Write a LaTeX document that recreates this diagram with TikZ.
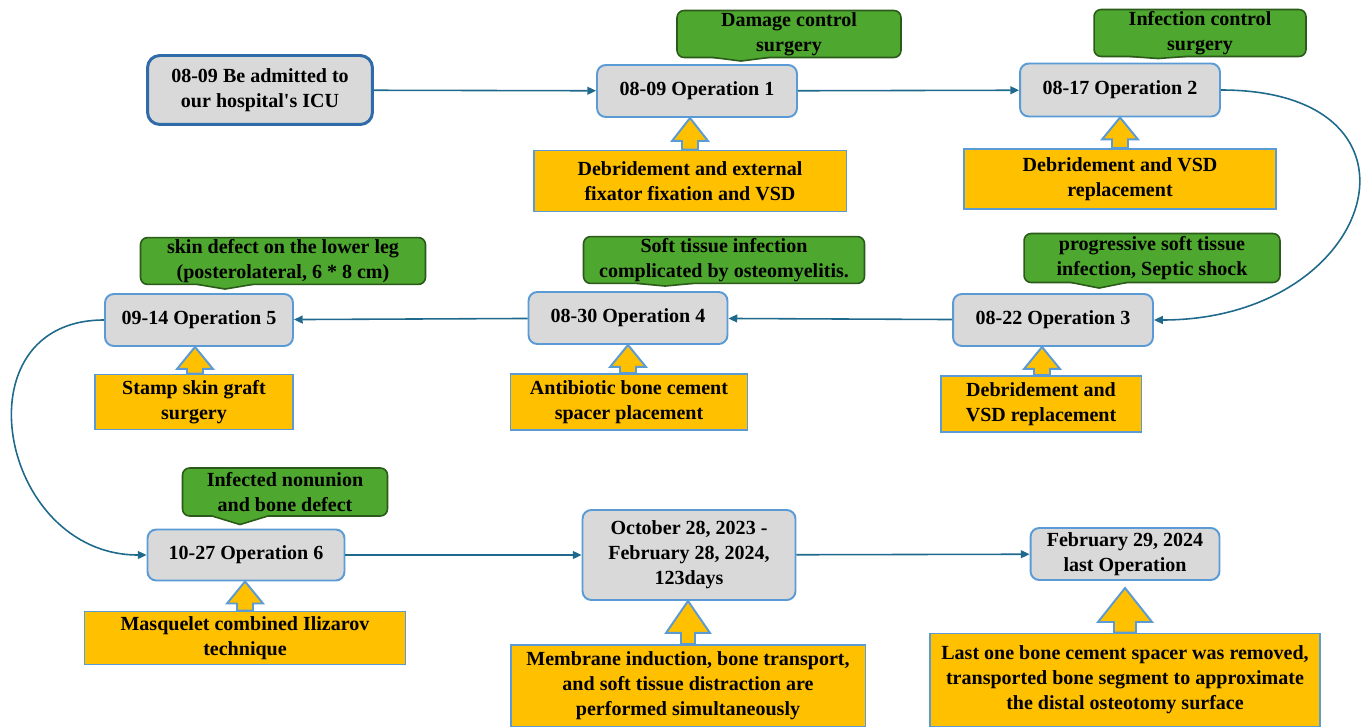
\documentclass[tikz,border=0pt]{standalone}
\usepackage{fontspec}
\setmainfont{Liberation Serif}
\usetikzlibrary{arrows.meta,calc}

\definecolor{opgray}{HTML}{D9D9D9}
\definecolor{edgeblue}{HTML}{5B9BD5}
\definecolor{icublue}{HTML}{2E6BA8}
\definecolor{flowteal}{HTML}{1F6A8C}
\definecolor{causegreen}{HTML}{4EA72E}
\definecolor{causedark}{HTML}{2B5A1A}
\definecolor{procorange}{HTML}{FFC000}

\newcommand{\pxu}{0.02cm}
% block arrow from a procedure box up to an operation
\newcommand{\liftarrow}[7]{%
  \draw[liftarr] let \p1=(#3,0 |- #1.north), \p2=(#3,0 |- #2.south) in
    ({\x2},{\y2-#7*\pxu}) -- ({\x2+#5*\pxu},{\y2-(#7+#6)*\pxu}) -- ({\x2+#4*\pxu},{\y2-(#7+#6)*\pxu})
    -- ({\x1+#4*\pxu},\y1) -- ({\x1-#4*\pxu},\y1) -- ({\x2-#4*\pxu},{\y2-(#7+#6)*\pxu})
    -- ({\x2-#5*\pxu},{\y2-(#7+#6)*\pxu}) -- cycle;}
% small pointer under a green cause box
\newcommand{\causetip}[2]{%
  \coordinate (tip) at #2;
  \fill[causegreen] ($(tip |- #1.south)+(-28,-2.5)$) -- ($(tip |- #1.south)+(-28,-0.8)$) -- (tip)
    -- ($(tip |- #1.south)+(28,-0.8)$) -- ($(tip |- #1.south)+(28,-2.5)$) -- cycle;
  \draw[causedark, line width=0.9pt] ($(tip |- #1.south)+(-28,-0.8)$) -- (tip) -- ($(tip |- #1.south)+(28,-0.8)$);}

\begin{document}
\begin{tikzpicture}[x=0.02cm, y=-0.02cm,
  font=\fontsize{11.4}{14.2}\selectfont\bfseries,
  op/.style={draw=edgeblue, line width=1.1pt, fill=opgray, rounded corners=5pt, align=center, minimum height=1.04cm, inner sep=2pt},
  cause/.style={draw=causedark, line width=0.9pt, fill=causegreen, rounded corners=4pt, align=center, inner sep=1pt},
  proc/.style={draw=edgeblue, line width=1.1pt, fill=procorange, align=center, inner sep=2pt},
  flow/.style={draw=flowteal, line width=0.9pt, -{Triangle[length=5pt,width=4.5pt]}},
  liftarr/.style={draw=edgeblue, line width=1.1pt, fill=procorange, line join=miter}]

\useasboundingbox (0,0) rectangle (1364,726);

\node (icu) [op, draw=icublue, line width=1.7pt, rounded corners=7pt, minimum width=4.5cm, minimum height=1.38cm] at (260,90) {08-09 Be admitted to\\ our hospital\textquotesingle s ICU};
\node (op1) [op, minimum width=4cm] at (697,91) {08-09 Operation 1};
\node (op2) [op, minimum width=4cm, minimum height=1.06cm] at (1120,90) {08-17 Operation 2};
\node (op3) [op, minimum width=4cm] at (1053,320) {08-22 Operation 3};
\node (op4) [op, minimum width=3.98cm] at (628,318) {08-30 Operation 4};
\node (op5) [op, minimum width=3.76cm] at (199,320) {09-14 Operation 5};
\node (op6) [op, minimum width=3.94cm, minimum height=1.02cm] at (246,555) {10-27 Operation 6};
\node (op7) [op, minimum width=4.26cm, minimum height=1.8cm] at (689,555) {October 28, 2023 -\\ February 28, 2024,\\ 123days};
\node (op8) [op, minimum width=3.78cm] at (1125,554) {February 29, 2024\\ last Operation};

\node (c1) [cause, minimum width=4.48cm, minimum height=0.94cm] at (789,34) {Damage control\\ surgery};
\node (c2) [cause, minimum width=4.24cm, minimum height=0.92cm] at (1200,33) {Infection control\\ surgery};
\node (c3) [cause, minimum width=5.12cm, minimum height=0.98cm] at (1152,258) {progressive soft tissue\\ infection, Septic shock};
\node (c4) [cause, minimum width=5.62cm, minimum height=0.9cm] at (724,260) {Soft tissue infection\\ complicated by osteomyelitis.};
\node (c5) [cause, minimum width=5.7cm, minimum height=0.92cm] at (283,261) {skin defect on the lower leg\\ (posterolateral, 6 * 8 cm)};
\node (c6) [cause, minimum width=4.1cm, minimum height=0.96cm] at (285,492) {Infected nonunion\\ and bone defect};

\causetip{c1}{($(op1.north)+(44,-3)$)}
\causetip{c2}{($(op2.north)+(38,-4)$)}
\causetip{c3}{($(op3.north)+(46,-5)$)}
\causetip{c4}{($(op4.north)+(37,-5)$)}
\causetip{c5}{($(op5.north)+(26,-4)$)}
\causetip{c6}{($(op6.north)+(-6,-4)$)}

\node (p1) [proc, minimum width=6.26cm, minimum height=1.22cm] at (690,181) {Debridement and external\\ fixator fixation and VSD};
\node (p2) [proc, minimum width=6.24cm, minimum height=1.2cm] at (1120,179) {Debridement and VSD\\ replacement};
\node (p3) [proc, minimum width=4.02cm, minimum height=1.12cm] at (1041,404) {Debridement and\\ VSD replacement};
\node (p4) [proc, minimum width=4.74cm, minimum height=1.12cm] at (629,402) {Antibiotic bone cement\\ spacer placement};
\node (p5) [proc, minimum width=3.96cm, minimum height=1.1cm] at (194,402) {Stamp skin graft\\ surgery};
\node (p6) [proc, minimum width=6.42cm, minimum height=1.06cm] at (245,638) {Masquelet combined Ilizarov\\ technique};
\node (p7) [proc, minimum width=7.1cm, minimum height=1.64cm] at (688,686) {Membrane induction, bone transport,\\ and soft tissue distraction are\\ performed simultaneously};
\node (p8) [proc, minimum width=7.8cm, minimum height=1.86cm] at (1125,680) {Last one bone cement spacer was removed,\\ transported bone segment to approximate\\ the distal osteotomy surface};

\liftarrow{p1}{op1}{690}{8}{18}{23}{0}
\liftarrow{p2}{op2}{1120}{8}{18}{22}{0}
\liftarrow{p3}{op3}{1042}{8}{18}{22}{0}
\liftarrow{p4}{op4}{628}{8}{18}{22}{0}
\liftarrow{p5}{op5}{195}{8}{18}{22}{0}
\liftarrow{p6}{op6}{245}{8}{18}{22}{0}
\liftarrow{p7}{op7}{688}{7}{22}{32}{0}
\liftarrow{p8}{op8}{1125}{11}{27}{34}{7}

\draw[flow] (icu) -- (op1);
\draw[flow] (op1) -- (op2);
\draw[flow] (op2.east) .. controls +(224,0) and +(224,0) .. (op3.east);
\draw[flow] (op3) -- (op4);
\draw[flow] (op4) -- (op5);
\draw[flow] (op5.west) .. controls +(-148,0) and +(-148,0) .. (op6.west);
\draw[flow] (op6) -- (op7);
\draw[flow] (op7) -- (op8);
\end{tikzpicture}
\end{document}
